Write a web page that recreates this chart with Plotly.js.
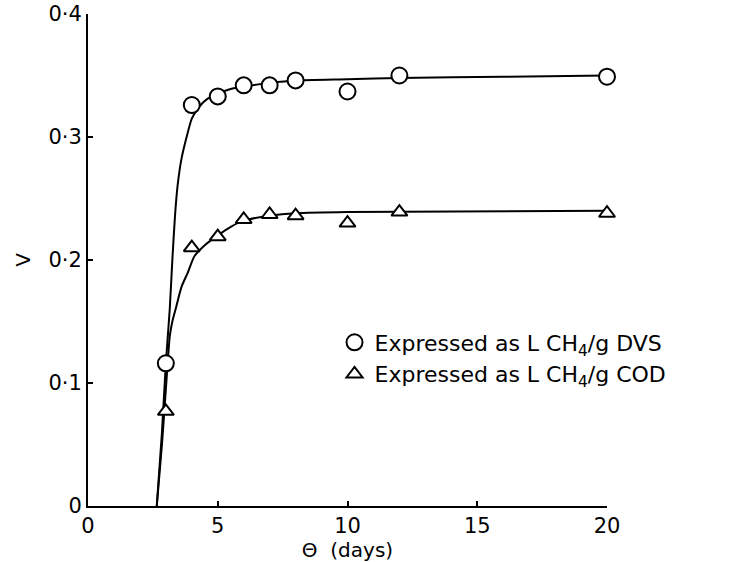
<!DOCTYPE html>
<html>
<head>
<meta charset="utf-8">
<script src="https://cdn.plot.ly/plotly-3.0.1.min.js"></script>
<style>html,body{margin:0;padding:0;background:#fff;}#chart{width:729px;height:562px;}</style>
</head>
<body>
<div id="chart"></div>
<script>
// Measured points (theta in days, V)
const thetaPts = [3, 4, 5, 6, 7, 8, 10, 12, 20];
const vDVS = [0.116, 0.326, 0.333, 0.342, 0.342, 0.346, 0.337, 0.350, 0.349];
const vCOD = [0.077, 0.210, 0.219, 0.233, 0.237, 0.236, 0.230, 0.239, 0.238];

// Fitted curves
const curveDVSx = [2.65, 2.85, 3.0, 3.15, 3.25, 3.35, 3.45, 3.6, 3.8, 4.0, 4.3, 4.6, 5, 5.5, 6, 7, 8, 10, 12, 16, 20];
const curveDVSy = [0, 0.06, 0.116, 0.16, 0.2, 0.235, 0.26, 0.282, 0.3, 0.315, 0.325, 0.331, 0.335, 0.339, 0.341, 0.344, 0.346, 0.347, 0.348, 0.349, 0.350];
const curveCODx = [2.65, 2.85, 3.0, 3.1, 3.15, 3.25, 3.4, 3.6, 3.85, 4.1, 4.5, 5, 5.5, 6, 7, 8, 10, 20];
const curveCODy = [0, 0.05, 0.095, 0.125, 0.138, 0.15, 0.162, 0.178, 0.19, 0.203, 0.212, 0.220, 0.227, 0.232, 0.236, 0.238, 0.239, 0.240];

const xTickVals = [0, 5, 10, 15, 20];
const xTickText = ['0', '5', '10', '15', '20'];
const yTickVals = [0, 0.1, 0.2, 0.3, 0.4];
const yTickText = ['0', '0·1', '0·2', '0·3', '0·4'];

const nameDVS = 'Expressed as L CH<sub>4</sub>/g DVS';
const nameCOD = 'Expressed as L CH<sub>4</sub>/g COD';

const FONT = 'DejaVu Sans, sans-serif';

const traces = [
  {x: curveDVSx, y: curveDVSy, mode: 'lines', line: {color: '#000', width: 2, shape: 'spline', smoothing: 0.6}, showlegend: false, hoverinfo: 'skip'},
  {x: curveCODx, y: curveCODy, mode: 'lines', line: {color: '#000', width: 2, shape: 'spline', smoothing: 0.6}, showlegend: false, hoverinfo: 'skip'},
  {x: thetaPts, y: vDVS, mode: 'markers', name: nameDVS, cliponaxis: false,
   marker: {symbol: 'circle', color: '#fff', size: 16, line: {color: '#000', width: 2}}},
  {x: thetaPts, y: vCOD, mode: 'markers', name: nameCOD, cliponaxis: false,
   marker: {symbol: 'triangle-up', color: '#fff', size: 14, line: {color: '#000', width: 2}}}
];

const layout = {
  width: 729, height: 562,
  margin: {l: 88, r: 122, t: 14, b: 56},
  paper_bgcolor: '#fff', plot_bgcolor: '#fff',
  font: {family: FONT, color: '#000', size: 20},
  showlegend: true,
  legend: {x: 0.475, xanchor: 'left', y: 0.375, yanchor: 'top', bgcolor: 'rgba(0,0,0,0)',
           font: {family: FONT, size: 22, color: '#000'}, tracegroupgap: 2},
  xaxis: {
    range: [0, 20], tickvals: xTickVals, ticktext: xTickText,
    showline: true, linecolor: '#000', linewidth: 2, mirror: false,
    ticks: 'inside', ticklen: 5, tickwidth: 2, tickcolor: '#000',
    showgrid: false, zeroline: false,
    tickfont: {family: FONT, size: 21},
    title: {text: 'Θ  (days)', font: {family: FONT, size: 20}, standoff: 2}
  },
  yaxis: {
    range: [0, 0.4], tickvals: yTickVals, ticktext: yTickText,
    showline: true, linecolor: '#000', linewidth: 2, mirror: false,
    ticks: 'inside', ticklen: 5, tickwidth: 2, tickcolor: '#000',
    showgrid: false, zeroline: false,
    tickfont: {family: FONT, size: 21},
    title: {text: 'V', font: {family: FONT, size: 20}, standoff: 12}
  }
};

Plotly.newPlot('chart', traces, layout, {staticPlot: true, displayModeBar: false});
</script>
</body>
</html>
